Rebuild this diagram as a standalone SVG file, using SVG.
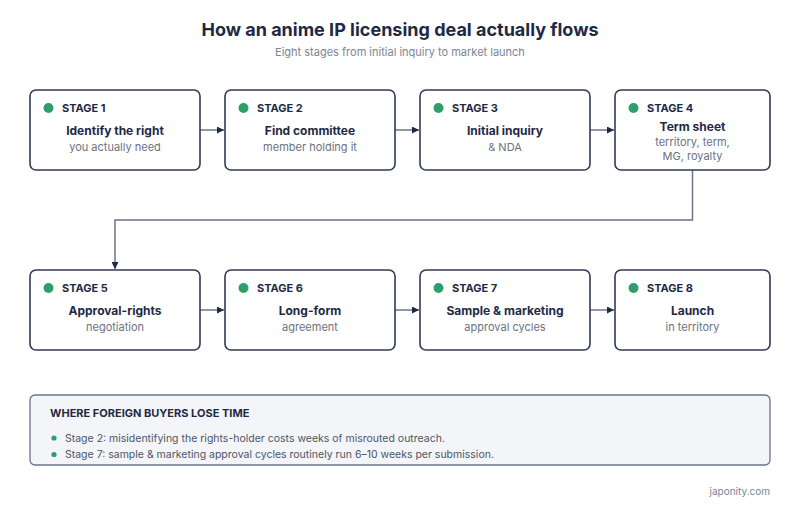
<svg xmlns="http://www.w3.org/2000/svg" width="800" height="510" viewBox="0 0 800 510">
<defs>
<marker id="ah" viewBox="0 0 10 10" refX="10" refY="5" markerWidth="7" markerHeight="7" markerUnits="userSpaceOnUse" orient="auto"><path d="M0,0 L10,5 L0,10 z" fill="#1e2a44"/></marker>
<style>
text{font-family:Inter,"Liberation Sans",sans-serif}
.box{fill:#ffffff;stroke:#2f3b56;stroke-width:1.6}
.dot{fill:#2e9e6b}
.stg{font-size:11px;font-weight:700;fill:#1e2a44}
.ttl{font-size:12px;font-weight:700;fill:#1e2a44;text-anchor:middle}
.sub{font-size:11px;fill:#6b7280;text-anchor:middle}
.con{fill:none;stroke:#6b7488;stroke-width:1.5;marker-end:url(#ah)}
</style>
</defs>
<rect width="800" height="510" fill="#ffffff"/>
<text x="400" y="36" text-anchor="middle" font-size="18" font-weight="700" fill="#1e2a44">How an anime IP licensing deal actually flows</text>
<text x="400" y="56" text-anchor="middle" font-size="11" fill="#7b8496">Eight stages from initial inquiry to market launch</text>

<g id="connectors">
<line class="con" x1="200" y1="130" x2="224" y2="130"/>
<line class="con" x1="395" y1="130" x2="419" y2="130"/>
<line class="con" x1="590" y1="130" x2="614" y2="130"/>
<path class="con" d="M692.5,170 V220 H115 V269"/>
<line class="con" x1="200" y1="310" x2="224" y2="310"/>
<line class="con" x1="395" y1="310" x2="419" y2="310"/>
<line class="con" x1="590" y1="310" x2="614" y2="310"/>
</g>

<g id="stage1">
<rect class="box" x="30" y="90" width="170" height="80" rx="6"/>
<circle class="dot" cx="48.5" cy="108" r="5"/>
<text class="stg" x="62" y="112">STAGE 1</text>
<text class="ttl" x="115" y="135">Identify the right</text>
<text class="sub" x="115" y="151">you actually need</text>
</g>
<g id="stage2">
<rect class="box" x="225" y="90" width="170" height="80" rx="6"/>
<circle class="dot" cx="243.5" cy="108" r="5"/>
<text class="stg" x="257" y="112">STAGE 2</text>
<text class="ttl" x="310" y="135">Find committee</text>
<text class="sub" x="310" y="151">member holding it</text>
</g>
<g id="stage3">
<rect class="box" x="420" y="90" width="170" height="80" rx="6"/>
<circle class="dot" cx="438.5" cy="108" r="5"/>
<text class="stg" x="452" y="112">STAGE 3</text>
<text class="ttl" x="505" y="135">Initial inquiry</text>
<text class="sub" x="505" y="151">&amp; NDA</text>
</g>
<g id="stage4">
<rect class="box" x="615" y="90" width="155" height="80" rx="6"/>
<circle class="dot" cx="633.5" cy="108" r="5"/>
<text class="stg" x="647" y="112">STAGE 4</text>
<text class="ttl" x="692.5" y="131">Term sheet</text>
<text class="sub" x="692.5" y="146">territory, term,</text>
<text class="sub" x="692.5" y="160">MG, royalty</text>
</g>
<g id="stage5">
<rect class="box" x="30" y="270" width="170" height="80" rx="6"/>
<circle class="dot" cx="48.5" cy="288" r="5"/>
<text class="stg" x="62" y="292">STAGE 5</text>
<text class="ttl" x="115" y="315">Approval-rights</text>
<text class="sub" x="115" y="331">negotiation</text>
</g>
<g id="stage6">
<rect class="box" x="225" y="270" width="170" height="80" rx="6"/>
<circle class="dot" cx="243.5" cy="288" r="5"/>
<text class="stg" x="257" y="292">STAGE 6</text>
<text class="ttl" x="310" y="315">Long-form</text>
<text class="sub" x="310" y="331">agreement</text>
</g>
<g id="stage7">
<rect class="box" x="420" y="270" width="170" height="80" rx="6"/>
<circle class="dot" cx="438.5" cy="288" r="5"/>
<text class="stg" x="452" y="292">STAGE 7</text>
<text class="ttl" x="505" y="315">Sample &amp; marketing</text>
<text class="sub" x="505" y="331">approval cycles</text>
</g>
<g id="stage8">
<rect class="box" x="615" y="270" width="155" height="80" rx="6"/>
<circle class="dot" cx="633.5" cy="288" r="5"/>
<text class="stg" x="647" y="292">STAGE 8</text>
<text class="ttl" x="692.5" y="315">Launch</text>
<text class="sub" x="692.5" y="331">in territory</text>
</g>

<g id="note">
<rect x="30" y="395" width="740" height="70" rx="5" fill="#f4f5f9" stroke="#6b7488" stroke-width="1.3"/>
<text x="50" y="417" font-size="11" font-weight="700" fill="#1e2a44">WHERE FOREIGN BUYERS LOSE TIME</text>
<circle cx="54" cy="438" r="2.6" fill="#2e9e6b"/>
<text x="65" y="441.5" font-size="10.5" fill="#4b5563">Stage 2: misidentifying the rights-holder costs weeks of misrouted outreach.</text>
<circle cx="54" cy="454.5" r="2.6" fill="#2e9e6b"/>
<text x="65" y="458" font-size="10.5" fill="#4b5563">Stage 7: sample &amp; marketing approval cycles routinely run 6–10 weeks per submission.</text>
</g>
<text x="770" y="495" text-anchor="end" font-size="10" fill="#7b8496">japonity.com</text>
</svg>
